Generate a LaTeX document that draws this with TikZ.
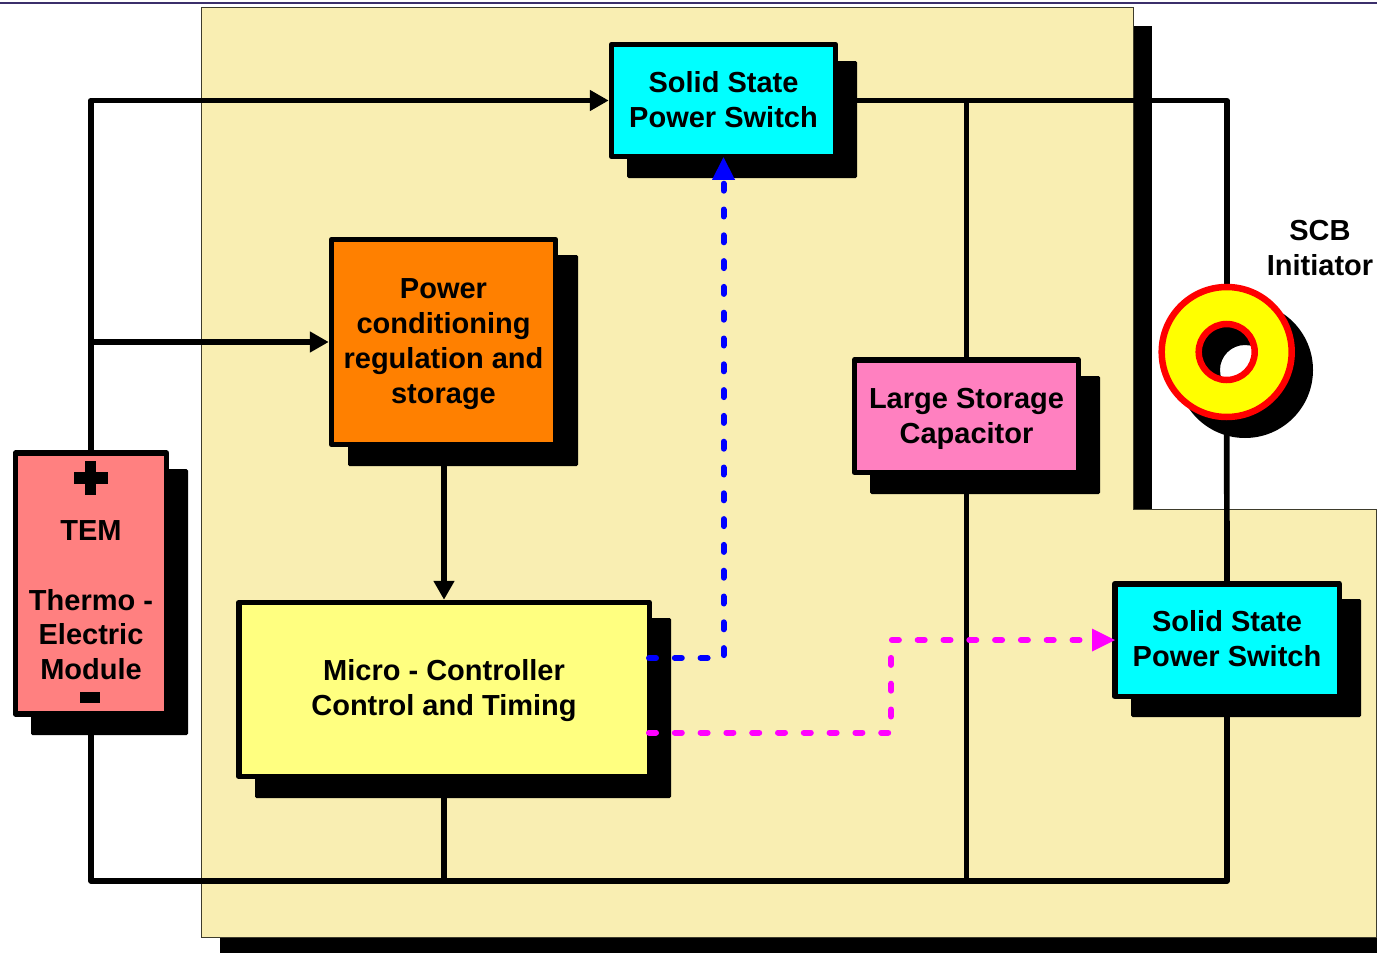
\documentclass[tikz,border=0pt]{standalone}
\usepackage{fontspec}
\setmainfont{Liberation Sans}
\usetikzlibrary{arrows.meta,calc}
\pgfdeclarelayer{backdrop}
\pgfdeclarelayer{wires}
\pgfdeclarelayer{signals}
\pgfsetlayers{backdrop,wires,main,signals}
\definecolor{paneltan}{HTML}{F9EEB2}
\definecolor{temred}{HTML}{FF8080}
\definecolor{ctrlyellow}{HTML}{FFFF80}
\definecolor{pwrorange}{HTML}{FF8000}
\definecolor{storepink}{HTML}{FF80C0}
\definecolor{topnavy}{HTML}{3B2F6B}
\definecolor{switchcyan}{HTML}{00FFFF}
\definecolor{sigmagenta}{HTML}{FF00FF}
\definecolor{sigblue}{HTML}{0000FF}
\definecolor{ringred}{HTML}{FF0000}
\definecolor{ringyellow}{HTML}{FFFF00}
\tikzset{
  pix/.style={x=1pt,y=-1pt},
  boxtext/.style={font=\fontsize{29}{35}\selectfont\bfseries,align=center,text=black,inner sep=0pt},
  blockbox/.style={draw=black,line width=5.5pt,line join=round,inner sep=0pt,outer sep=2.75pt},
  shadowbox/.style={fill=black,draw=none,rounded corners=1.5pt,inner sep=0pt},
  wire/.style={draw=black,line width=5.7pt,line join=round},
  wiretip/.style={wire,-{Triangle[length=19pt,width=20pt]}},
  signal/.style={line width=6pt,line cap=round,line join=round,dash pattern=on 7pt off 18.8pt},
}
\begin{document}
\begin{tikzpicture}[pix]
\useasboundingbox (0,0) rectangle (1377,953);
\begin{pgfonlayer}{backdrop}
  \fill[black] (1133,26) rectangle (1152,520);
  \fill[black] (220,925) rectangle (1377,953);
  \draw[fill=paneltan,draw=black!75!paneltan,line width=1pt]
    (201.5,7.8) -- (1133,7.8) -- (1133,509.5) -- (1376,509.5) -- (1376,937) -- (201.5,937) -- cycle;
  \draw[topnavy,line width=1.6pt] (0,2.7) -- (1377,2.7);
\end{pgfonlayer}

% shadows
\node[shadowbox,minimum width=157pt,minimum height=266pt] (temshadow) at (109.5,602) {};
\node[shadowbox,minimum width=230pt,minimum height=117pt] (ssashadow) at (742,119.5) {};
\node[shadowbox,minimum width=230pt,minimum height=211pt] (powershadow) at (463,360.5) {};
\node[shadowbox,minimum width=230pt,minimum height=118pt] (storeshadow) at (985,435) {};
\node[shadowbox,minimum width=416pt,minimum height=180pt] (microshadow) at (463,708) {};
\node[shadowbox,minimum width=230pt,minimum height=118pt] (ssbshadow) at (1246,658) {};

% blocks
\node[blockbox,fill=temred,minimum width=151pt,minimum height=261pt] (tem) at (91,583.5) {};
\node[blockbox,fill=switchcyan,minimum width=224pt,minimum height=112pt] (ssa) at (723.5,100.5) {};
\node[blockbox,fill=pwrorange,minimum width=224pt,minimum height=205pt] (power) at (443.5,342) {};
\node[blockbox,fill=storepink,minimum width=224pt,minimum height=112.5pt] (store) at (966.5,416) {};
\node[blockbox,fill=ctrlyellow,minimum width=410.5pt,minimum height=174pt] (micro) at (444,689.5) {};
\node[blockbox,fill=switchcyan,minimum width=224.5pt,minimum height=112.5pt] (ssb) at (1227,640) {};

% texts
\node[boxtext] (temtext) at (91,600) {TEM\\[35pt]Thermo -\\[-0.5pt]Electric\\Module};
\node[boxtext] (ssatext) at ($(ssa)+(0,-0.7)$) {Solid State\\Power Switch};
\node[boxtext] (powertext) at ($(power)+(0,2.5)$) {Power\\conditioning\\regulation and\\storage};
\node[boxtext] (storetext) at ($(store)+(0,3)$) {Large Storage\\Capacitor};
\node[boxtext] (microtext) at ($(micro)+(0,1)$) {Micro - Controller\\Control and Timing};
\node[boxtext] (ssbtext) at ($(ssb)+(0,-1)$) {Solid State\\Power Switch};

% plus and minus marks of the module
\fill[black] (73.7,472) rectangle (108,483.7);
\fill[black] (85.3,461) rectangle (96.3,495);
\fill[black] (80.3,692.3) rectangle (100,703.3);

% SCB initiator ring
\fill[black,even odd rule] (1245,370) circle[radius=68pt] (1245,370) circle[radius=25pt];
\draw[ringred,fill=ringyellow,line width=6.5pt,even odd rule] (1226.7,352) circle[radius=65pt] (1226.7,352) circle[radius=28pt];
\node[circle,minimum size=136pt,inner sep=0pt,outer sep=0pt] (ring) at (1226.7,352) {};
\node[boxtext] (ringtext) at (1320,248.5) {SCB\\Initiator};

\coordinate (bus) at (91,881);
\coordinate (bluefrom) at (649,658);
\coordinate (magfrom) at (649,732.5);
\coordinate (magbend) at (891,732.5);

\begin{pgfonlayer}{wires}
  \draw[wiretip] (tem.north) -- (tem.north |- ssa.west) -- (ssa.west);
  \draw[wiretip] (tem.north |- power.west) -- (power.west);
  \draw[wiretip] (power.south) -- (power.south -| micro.north) -- (micro.north);
  \draw[wire] (ssa.east) -- (ssa.east -| ring.north) -- (ring.north);
  \draw[wire] (store.north) -- (store.north |- ssa.east);
  \draw[wire] (ring.south) -- (ssb.north);
  \draw[wire] (tem.south) -- (bus) -- (bus -| ssb.south) -- (ssb.south);
  \draw[wire] (micro.south) -- (micro.south |- bus);
  \draw[wire] (store.south) -- (store.south |- bus);
\end{pgfonlayer}

\begin{pgfonlayer}{signals}
  \draw[signal,sigblue] (bluefrom) -- (bluefrom -| ssa.south) -- (723.5,182);
  \fill[sigblue] (ssa.south) ++(0,-2) -- ++(11.5,22.5) -- ++(-23,0) -- cycle;
  \coordinate (magtip) at (ssb.west);
  \draw[signal,sigmagenta] (magfrom) -- (magbend) -- (magbend |- magtip) -- ($(magtip)+(-24,0)$);
  \fill[sigmagenta] ($(magtip)+(3,0)$) -- ++(-23,-11.5) -- ++(0,23) -- cycle;
\end{pgfonlayer}
\end{tikzpicture}
\end{document}
